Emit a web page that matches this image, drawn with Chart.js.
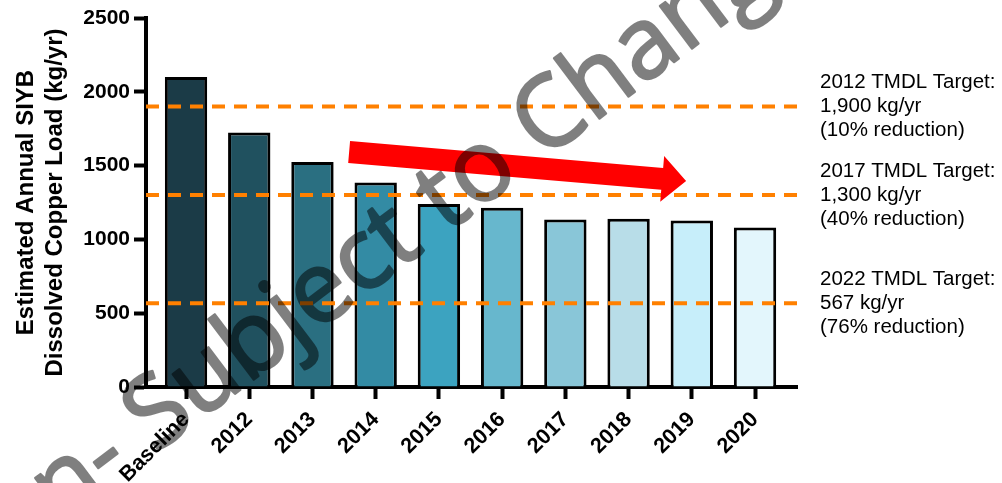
<!DOCTYPE html>
<html>
<head>
<meta charset="utf-8">
<script src="https://cdn.jsdelivr.net/npm/chart.js@4.4.1/dist/chart.umd.min.js"></script>
<style>
  html, body { margin: 0; padding: 0; background: #fff; }
  #wrap { width: 1002px; height: 483px; position: relative; }
</style>
</head>
<body>
<div id="wrap"><canvas id="copperChart" width="1002" height="483"></canvas></div>
<script>
// datos del grafico
const categories = ['Baseline', '2012', '2013', '2014', '2015', '2016', '2017', '2018', '2019', '2020'];
const copperLoad = [2100, 1725, 1525, 1385, 1240, 1215, 1135, 1140, 1128, 1080];
const barColors = ['#1b3b47', '#20515f', '#2a6f81', '#338ba4', '#3ca3c0', '#67b7cd', '#89c6d8', '#b8dde8', '#c7eefa', '#e3f6fc'];
const targetValues = [1900, 1300, 567];
const targetLabels = [
    ['2012 TMDL Target:', '1,900 kg/yr', '(10% reduction)'],
    ['2017 TMDL Target:', '1,300 kg/yr', '(40% reduction)'],
    ['2022 TMDL Target:', '567 kg/yr', '(76% reduction)']
];
const yTicks = [0, 500, 1000, 1500, 2000, 2500];
// flecha de tendencia (indice de categoria, kg/yr)
const trendFrom = [2.58, 1592];
const trendTo = [7.91, 1396];

const xMin = -0.633;
const xMax = 9.664;
const boldFont = 'Arial, "Liberation Sans", sans-serif';

// Plugin para la flecha, los textos de los objetivos y la marca de agua
const extrasPlugin = {
    id: 'extras',
    afterDatasetsDraw(chart) {
        const ctx = chart.ctx;
        const xs = chart.scales.x, ys = chart.scales.y;
        const x0 = xs.getPixelForValue(trendFrom[0]), y0 = ys.getPixelForValue(trendFrom[1]);
        const x1 = xs.getPixelForValue(trendTo[0]), y1 = ys.getPixelForValue(trendTo[1]);
        const len = Math.hypot(x1 - x0, y1 - y0);
        const ux = (x1 - x0) / len, uy = (y1 - y0) / len;
        const nx = -uy, ny = ux;
        const shaft = 11, head = 23, headLen = 24;
        const bx = x1 - ux * headLen, by = y1 - uy * headLen;
        ctx.save();
        ctx.fillStyle = '#ff0000';
        ctx.beginPath();
        ctx.moveTo(x0 + nx * shaft, y0 + ny * shaft);
        ctx.lineTo(bx + nx * shaft, by + ny * shaft);
        ctx.lineTo(bx + nx * head, by + ny * head);
        ctx.lineTo(x1, y1);
        ctx.lineTo(bx - nx * head, by - ny * head);
        ctx.lineTo(bx - nx * shaft, by - ny * shaft);
        ctx.lineTo(x0 - nx * shaft, y0 - ny * shaft);
        ctx.closePath();
        ctx.fill();
        ctx.restore();
    },
    afterDraw(chart) {
        const ctx = chart.ctx;
        const ys = chart.scales.y;
        const area = chart.chartArea;

        // textos de los objetivos TMDL
        ctx.save();
        ctx.fillStyle = '#000';
        ctx.font = '20.5px ' + boldFont;
        ctx.textAlign = 'left';
        ctx.textBaseline = 'middle';
        targetValues.forEach((v, i) => {
            const yMid = ys.getPixelForValue(v);
            targetLabels[i].forEach((line, j) => {
                ctx.fillText(line, area.right + 23, yMid + (j - 1) * 24);
            });
        });
        ctx.restore();

        // marca de agua: "Subject" empieza en sx,sy y "Change" en cx,cy
        // se dibuja opaca en un canvas aparte y luego se pega semitransparente
        const sx = 155, sy = 454, cx = 543, cy = 161;
        const dist = Math.hypot(cx - sx, cy - sy);
        const ang = Math.atan2(cy - sy, cx - sx);
        const off = document.createElement('canvas');
        off.width = chart.width;
        off.height = chart.height;
        const oc = off.getContext('2d');
        oc.font = '100px "Open Sans", sans-serif';
        const size = 100 * dist / oc.measureText('Subject to ').width;
        oc.font = size.toFixed(1) + 'px "Open Sans", sans-serif';
        oc.fillStyle = '#000';
        oc.strokeStyle = '#000';
        oc.lineWidth = 2.5;
        oc.lineJoin = 'round';
        oc.textBaseline = 'alphabetic';
        oc.translate(sx, sy);
        oc.rotate(ang);
        oc.textAlign = 'left';
        oc.fillText('Subject to Change', 0, 0);
        oc.strokeText('Subject to Change', 0, 0);
        oc.textAlign = 'right';
        oc.fillText('Draft Version- ', 0, 0);
        oc.strokeText('Draft Version- ', 0, 0);
        ctx.save();
        ctx.globalAlpha = 0.5;
        ctx.drawImage(off, 0, 0);
        ctx.restore();
    }
};

const targetDatasets = targetValues.map(v => ({
    type: 'line',
    data: [{ x: xMin, y: v }, { x: xMax, y: v }],
    borderColor: '#ff8000',
    borderWidth: 4,
    borderDash: [13, 9],
    pointRadius: 0,
    fill: false,
    order: 0,
    clip: false
}));

const ctx = document.getElementById('copperChart').getContext('2d');
const chart = new Chart(ctx, {
    type: 'bar',
    data: {
        datasets: [{
            data: copperLoad.map((v, i) => ({ x: i, y: v })),
            backgroundColor: barColors,
            borderColor: '#000',
            borderWidth: 3,
            categoryPercentage: 1,
            barPercentage: 0.67,
            order: 1
        }].concat(targetDatasets)
    },
    options: {
        responsive: false,
        animation: false,
        devicePixelRatio: 1,
        layout: { padding: { left: 0, right: 205, top: 18, bottom: 0 } },
        plugins: { legend: { display: false }, tooltip: { enabled: false } },
        scales: {
            x: {
                type: 'linear',
                offset: false,
                min: xMin,
                max: xMax,
                afterBuildTicks: s => { s.ticks = categories.map((c, i) => ({ value: i })); },
                afterFit: s => { s.height = 96; },
                ticks: {
                    autoSkip: false,
                    maxRotation: 45,
                    minRotation: 45,
                    padding: 8,
                    color: '#000',
                    font: { family: boldFont, size: 21.5, weight: 'bold' },
                    callback: v => categories[v]
                },
                grid: { offset: false, drawOnChartArea: false, drawTicks: true, tickLength: 12, tickWidth: 4, tickColor: '#000' },
                border: { color: '#000', width: 4 }
            },
            y: {
                min: 0,
                max: 2500,
                afterBuildTicks: s => { s.ticks = yTicks.map(v => ({ value: v })); },
                afterFit: s => { s.width = 146; },
                ticks: {
                    padding: 4,
                    color: '#000',
                    font: { family: boldFont, size: 21, weight: 'bold' },
                    callback: v => String(v)
                },
                grid: { drawOnChartArea: false, drawTicks: true, tickLength: 12, tickWidth: 4, tickColor: '#000' },
                border: { color: '#000', width: 4 },
                title: {
                    display: true,
                    text: ['Estimated Annual SIYB', 'Dissolved Copper Load (kg/yr)'],
                    color: '#000',
                    font: { family: boldFont, size: 24, weight: 'bold', lineHeight: 1.2 },
                    padding: { top: 12, bottom: 0 }
                }
            }
        }
    },
    plugins: [extrasPlugin]
});
</script>
</body>
</html>
